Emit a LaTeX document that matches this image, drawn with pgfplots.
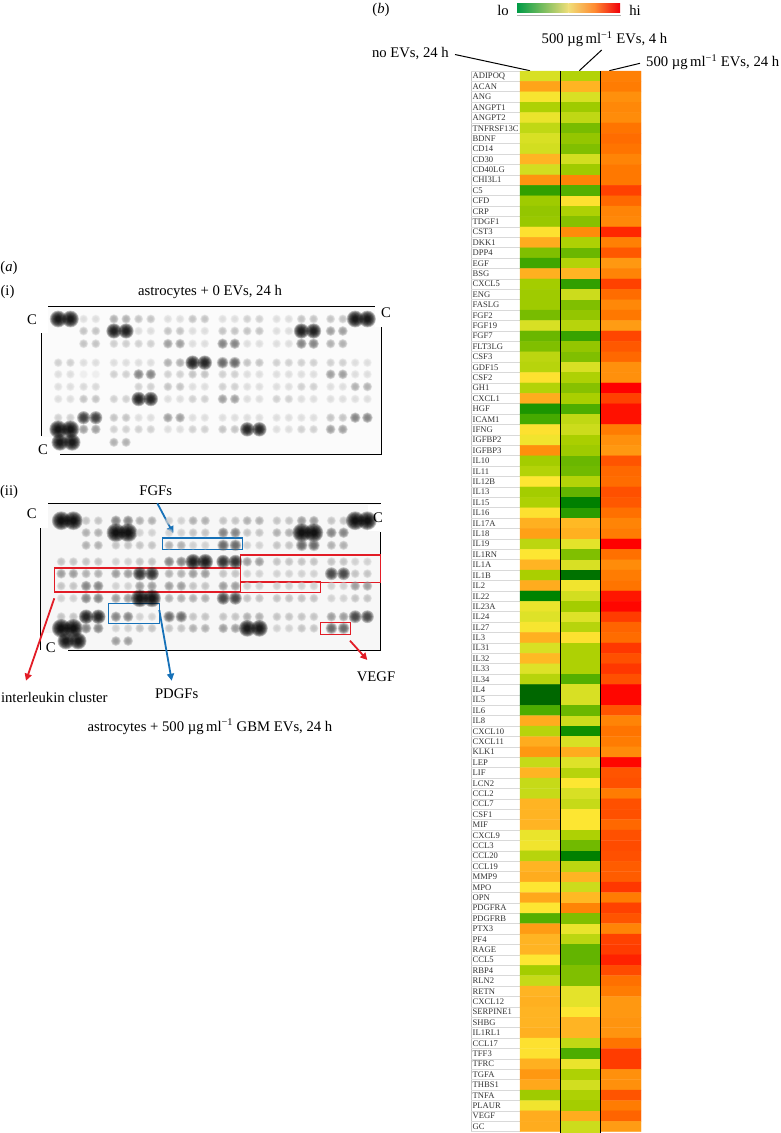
\documentclass[border=0pt]{standalone}
\usepackage{fontspec}
\setmainfont{Liberation Serif}
\usepackage{pgfplots}
\pgfplotsset{compat=1.18}
\usetikzlibrary{arrows.meta}
\newcommand{\tf}{\fontsize{14.7}{16}\selectfont}
\newcommand{\ug}{\textmu g\,ml\textsuperscript{−1}}
\newcommand{\bd}[2]{\pgfpathcircle{\pgfpoint{#1}{0pt}}{#2\pgfplotmarksize}\pgfusepathqfill}
\newcommand{\bl}[1]{\bd{#1}{1}\bd{#1}{.92}\bd{#1}{.84}\bd{#1}{.76}\bd{#1}{.68}\bd{#1}{.6}\bd{#1}{.52}\bd{#1}{.44}\bd{#1}{.36}\bd{#1}{.28}}
\pgfdeclareplotmark{blotpair}{\bl{-6.1pt}\bl{6.1pt}}
\definecolor{evred}{RGB}{226,28,38}
\definecolor{evblue}{RGB}{22,113,184}
\begin{document}
\begin{tikzpicture}
\begin{axis}[name=base,at={(0pt,0pt)},anchor=south west,scale only axis,width=780pt,height=1133pt,
  xmin=0,xmax=780,ymin=0,ymax=1133,y dir=reverse,hide axis,clip=false,
  point meta min=0,point meta max=6,
  colormap={blot}{gray(0pt)=(1); gray(1pt)=(.87); gray(2pt)=(.76); gray(3pt)=(.6); gray(4pt)=(.38); gray(5pt)=(.08); gray(6pt)=(0)}]
% panel backgrounds
\fill[gray!3] (axis cs:41,306) rectangle (axis cs:381,454);
\fill[gray!6] (axis cs:40,503) rectangle (axis cs:380,650);
% panel (i)
\addplot[scatter,only marks,mark=blotpair,scatter src=explicit,mark options={fill opacity=.22},
  scatter/@pre marker code/.append style={/tikz/mark size={4.4+5*(\pgfplotspointmetatransformed/1000)^3}}]
 coordinates {
 (64.3,319)[5.6] (89.7,319)[1] (120,319)[2.5] (144.7,319)[2] (174,319)[1] (198.7,319)[2] (228.7,319)[1] (253.3,319)[1.5] (282.7,319)[1] (307.5,319)[2] (336.7,319)[2] (361.3,319)[5.6]
 (89.7,331)[2] (120,331)[5.2] (144.7,331)[1] (174,331)[2] (198.7,331)[1] (228.7,331)[2] (253.3,331)[2] (282.7,331)[1] (307.5,331)[5.2] (336.7,331)[3]
 (89.7,343.7)[2] (120,343.7)[1.6] (144.7,343.7)[1.5] (174,343.7)[3] (198.7,343.7)[1] (228.7,343.7)[3.5] (253.3,343.7)[1] (282.7,343.7)[1] (307.5,343.7)[3.5] (336.7,343.7)[2.5]
 (64.3,362.7)[1.5] (89.7,362.7)[1] (120,362.7)[1] (144.7,362.7)[1] (174,362.7)[2.5] (198.7,362.7)[5] (228.7,362.7)[4] (253.3,362.7)[2] (282.7,362.7)[1.5] (307.5,362.7)[1.5] (336.7,362.7)[1.5] (361.3,362.7)[1]
 (64.3,374.3)[1] (89.7,374.3)[.5] (120,374.3)[1.5] (144.7,374.3)[3.5] (174,374.3)[1.5] (198.7,374.3)[2] (228.7,374.3)[1.5] (253.3,374.3)[1] (282.7,374.3)[1] (307.5,374.3)[1] (336.7,374.3)[3] (361.3,374.3)[1]
 (64.3,386.7)[1] (89.7,386.7)[1.2] (144.7,386.7)[1.5] (174,386.7)[2] (198.7,386.7)[1] (228.7,386.7)[1.5] (253.3,386.7)[1] (282.7,386.7)[1] (307.5,386.7)[1.5] (336.7,386.7)[1] (361.3,386.7)[2.5]
 (64.3,399)[1] (89.7,399)[2] (120,399)[1.5] (144.7,399)[5] (174,399)[1] (198.7,399)[1.5] (228.7,399)[3] (253.3,399)[1] (282.7,399)[1.5] (307.5,399)[1] (336.7,399)[1] (361.3,399)[1]
 (64.3,417.7)[1.5] (89.7,417.7)[4.6] (120,417.7)[2] (144.7,417.7)[1] (174,417.7)[3] (198.7,417.7)[1] (228.7,417.7)[1] (253.3,417.7)[1] (282.7,417.7)[1] (307.5,417.7)[1] (336.7,417.7)[2] (361.3,417.7)[3.5]
 (64.3,429.3)[5.8] (89.7,429.3)[3] (120,429.3)[1.5] (144.7,429.3)[1.5] (174,429.3)[1] (198.7,429.3)[1.5] (228.7,429.3)[2] (253.3,429.3)[5] (282.7,429.3)[1] (307.5,429.3)[1.5] (336.7,429.3)[3]
 (66,442.3)[5.6] (120,442.3)[2.5]
 };
% panel (ii)
\addplot[scatter,only marks,mark=blotpair,scatter src=explicit,mark options={fill opacity=.22},
  scatter/@pre marker code/.append style={/tikz/mark size={4.4+5*(\pgfplotspointmetatransformed/1000)^3}}]
 coordinates {
 (67.3,520.7)[6] (92.2,520.7)[2] (122,520.7)[3.5] (145.9,520.7)[2.5] (175.2,520.7)[1.5] (199.2,520.7)[2.5] (229.3,520.7)[2] (253.3,520.7)[2.5] (283,520.7)[2] (307.8,520.7)[3] (337.5,520.7)[2] (361.3,520.7)[6]
 (92.2,532.7)[2.5] (122,532.7)[6] (145.9,532.7)[1.5] (175.2,532.7)[1.5] (199.2,532.7)[2] (229.3,532.7)[3.5] (253.3,532.7)[2] (283,532.7)[2.5] (307.8,532.7)[6] (337.5,532.7)[3.5]
 (92.2,545.3)[2.5] (122,545.3)[2] (145.9,545.3)[2] (175.2,545.3)[2.5] (199.2,545.3)[1.5] (229.3,545.3)[4] (253.3,545.3)[1.5] (283,545.3)[2] (307.8,545.3)[4] (337.5,545.3)[2.5]
 (67.3,561.7)[2] (92.2,561.7)[2] (122,561.7)[1.5] (145.9,561.7)[2] (175.2,561.7)[3.5] (199.2,561.7)[5.3] (229.3,561.7)[4.8] (253.3,561.7)[3] (283,561.7)[2] (307.8,561.7)[2] (337.5,561.7)[2] (361.3,561.7)[1.5]
 (67.3,573.7)[3] (92.2,573.7)[2.5] (122,573.7)[3] (145.9,573.7)[4.8] (175.2,573.7)[2.5] (199.2,573.7)[3] (229.3,573.7)[2] (253.3,573.7)[1.5] (283,573.7)[1.5] (307.8,573.7)[1.5] (337.5,573.7)[4.5] (361.3,573.7)[2]
 (67.3,586)[2] (92.2,586)[3.5] (122,586)[1.5] (145.9,586)[3] (175.2,586)[3] (199.2,586)[2] (229.3,586)[3] (253.3,586)[1.5] (283,586)[1.5] (307.8,586)[1.5] (337.5,586)[1.5] (361.3,586)[3]
 (67.3,598.3)[1.5] (92.2,598.3)[3.5] (122,598.3)[3] (145.9,598.3)[5.8] (175.2,598.3)[2.5] (199.2,598.3)[2.5] (229.3,598.3)[4.5] (253.3,598.3)[2] (283,598.3)[2] (307.8,598.3)[2] (337.5,598.3)[1.5] (361.3,598.3)[2]
 (67.3,616.7)[2] (92.2,616.7)[5] (122,616.7)[3.5] (145.9,616.7)[1.5] (175.2,616.7)[4] (199.2,616.7)[2] (229.3,616.7)[2] (253.3,616.7)[2.5] (283,616.7)[2] (307.8,616.7)[2] (337.5,616.7)[3] (361.3,616.7)[4.5]
 (67.3,628.3)[6] (92.2,628.3)[3.5] (122,628.3)[1.5] (145.9,628.3)[2] (175.2,628.3)[2] (199.2,628.3)[2.5] (229.3,628.3)[3] (253.3,628.3)[5.6] (283,628.3)[1.5] (307.8,628.3)[2] (337.5,628.3)[4]
 (72,641)[5.6] (122,641)[3]
 };
% masks and frames
\fill[white] (axis cs:25,300) rectangle (axis cs:48,333);
\fill[white] (axis cs:375,300) rectangle (axis cs:395,327);
\fill[white] (axis cs:30,437) rectangle (axis cs:60,460);
\fill[white] (axis cs:25,497) rectangle (axis cs:48,528);
\fill[white] (axis cs:368,505) rectangle (axis cs:390,531);
\fill[white] (axis cs:40,633) rectangle (axis cs:68,655);
\draw[black,line width=.9pt] (axis cs:48,306.5) -- (axis cs:375,306.5);
\draw[black,line width=.9pt] (axis cs:41,333) -- (axis cs:41,436);
\draw[black,line width=.9pt] (axis cs:60,454) -- (axis cs:381,454) -- (axis cs:381,327);
\draw[black,line width=.9pt] (axis cs:48,503.5) -- (axis cs:381,503.5);
\draw[black,line width=.9pt] (axis cs:40,528) -- (axis cs:40,650);
\draw[black,line width=.9pt] (axis cs:68,650) -- (axis cs:380.5,650) -- (axis cs:380.5,532);
% annotation boxes
\draw[evblue,line width=1.1pt] (axis cs:162.3,538) rectangle (axis cs:242.3,549.7);
\draw[evblue,line width=1.1pt] (axis cs:108.3,603.3) rectangle (axis cs:159.3,623.3);
\draw[evred,line width=1.1pt] (axis cs:54.3,568) rectangle (axis cs:240.7,592);
\draw[evred,line width=1.1pt] (axis cs:240.7,555) rectangle (axis cs:380.5,582.7);
\draw[evred,line width=1.1pt] (axis cs:240.7,581.3) rectangle (axis cs:320.7,592.7);
\draw[evred,line width=1.1pt] (axis cs:320.3,622.3) rectangle (axis cs:350.7,634.7);
\draw[evblue,line width=1.8pt,-{Triangle[length=7pt,width=7pt]}] (axis cs:157.3,503.3) -- (axis cs:173.3,533.3);
\draw[evblue,line width=1.8pt,-{Triangle[length=7pt,width=7pt]}] (axis cs:159.3,610) -- (axis cs:171.7,680.7);
\draw[evred,line width=1.8pt,-{Triangle[length=7pt,width=7pt]}] (axis cs:54.3,598.3) -- (axis cs:26,680.7);
\draw[evred,line width=1.8pt,-{Triangle[length=7pt,width=7pt]}] (axis cs:350,640.7) -- (axis cs:367.3,660);
% texts of (a)
\node[font=\tf] at (axis cs:9,267.7) {(\textit{a})};
\node[font=\tf] at (axis cs:7.5,291.7) {(i)};
\node[font=\tf] at (axis cs:210,291.7) {astrocytes + 0 EVs, 24 h};
\node[font=\tf] at (axis cs:32,320) {C};
\node[font=\tf] at (axis cs:386,313) {C};
\node[font=\tf] at (axis cs:43,450) {C};
\node[font=\tf] at (axis cs:9,491.7) {(ii)};
\node[font=\tf] at (axis cs:155.7,491) {FGFs};
\node[font=\tf] at (axis cs:31.7,514) {C};
\node[font=\tf] at (axis cs:378,518) {C};
\node[font=\tf] at (axis cs:50.7,647.7) {C};
\node[font=\tf] at (axis cs:54.3,697.7) {interleukin cluster};
\node[font=\tf] at (axis cs:176.7,694) {PDGFs};
\node[font=\tf] at (axis cs:376,676.7) {VEGF};
\node[font=\tf] at (axis cs:210,726.7) {astrocytes + 500 \ug{} GBM EVs, 24 h};
% texts of (b)
\node[font=\tf] at (axis cs:381,9.5) {(\textit{b})};
\node[font=\tf] at (axis cs:503,10) {lo};
\node[font=\tf] at (axis cs:635,10) {hi};
\shade[left color={rgb,255:red,0;green,155;blue,70},right color={rgb,255:red,240;green,222;blue,120}] (axis cs:517,3) rectangle (axis cs:568.5,12);
\shade[left color={rgb,255:red,240;green,222;blue,120},right color={rgb,255:red,240;green,0;blue,10},middle color={rgb,255:red,255;green,140;blue,50}] (axis cs:568.5,3) rectangle (axis cs:620,12);
\draw[gray!60,line width=.8pt] (axis cs:517,15) -- (axis cs:621,15);
\node[font=\tf] at (axis cs:604.5,39) {500 \ug{} EVs, 4 h};
\node[font=\tf,anchor=west,inner xsep=0pt] at (axis cs:646,62) {500 \ug{} EVs, 24 h};
\node[font=\tf,anchor=east,inner xsep=0pt] at (axis cs:449,54) {no EVs, 24 h};
\draw[black,line width=1pt] (axis cs:455,54.5) -- (axis cs:530,70.7);
\draw[black,line width=1pt] (axis cs:601.7,50) -- (axis cs:579.3,70.7);
\draw[black,line width=1pt] (axis cs:640,63.3) -- (axis cs:609.3,70.7);
% label table of the heat map
\draw[gray!45,line width=.6pt] (axis cs:471,71) -- (axis cs:471,1131.7);
\pgfplotsinvokeforeach{0,...,102}{\draw[gray!30,line width=.7pt] (axis cs:471,{71+10.4*#1}) -- (axis cs:520,{71+10.4*#1});}
\end{axis}
\begin{axis}[name=heat,at={(520pt,1.3pt)},anchor=south west,scale only axis,width=121pt,height=1060.7pt,
  xmin=-.5,xmax=2.5,ymin=-.5,ymax=101.5,y dir=reverse,clip=false,
  axis line style={draw=none},tick style={draw=none},xtick=\empty,
  ytick={0,...,101},
  yticklabels={ADIPOQ,ACAN,ANG,ANGPT1,ANGPT2,TNFRSF13C,BDNF,CD14,CD30,CD40LG,CHI3L1,C5,CFD,CRP,TDGF1,CST3,DKK1,DPP4,EGF,BSG,CXCL5,ENG,FASLG,FGF2,FGF19,FGF7,FLT3LG,CSF3,GDF15,CSF2,GH1,CXCL1,HGF,ICAM1,IFNG,IGFBP2,IGFBP3,IL10,IL11,IL12B,IL13,IL15,IL16,IL17A,IL18,IL19,IL1RN,IL1A,IL1B,IL2,IL22,IL23A,IL24,IL27,IL3,IL31,IL32,IL33,IL34,IL4,IL5,IL6,IL8,CXCL10,CXCL11,KLK1,LEP,LIF,LCN2,CCL2,CCL7,CSF1,MIF,CXCL9,CCL3,CCL20,CCL19,MMP9,MPO,OPN,PDGFRA,PDGFRB,PTX3,PF4,RAGE,CCL5,RBP4,RLN2,RETN,CXCL12,SERPINE1,SHBG,IL1RL1,CCL17,TFF3,TFRC,TGFA,THBS1,TNFA,PLAUR,VEGF,GC},
  yticklabel style={anchor=west,xshift=-47.5pt,font=\fontsize{8.6}{8.6}\selectfont,inner xsep=0pt,text=black!80},
  point meta min=0,point meta max=100,
  colormap={heat}{rgb255(0pt)=(0,100,0); rgb255(10pt)=(0,135,0); rgb255(20pt)=(70,170,0); rgb255(30pt)=(142,196,0); rgb255(35pt)=(170,207,0); rgb255(40pt)=(192,216,20); rgb255(45pt)=(222,226,40); rgb255(50pt)=(253,230,50); rgb255(60pt)=(255,180,35); rgb255(70pt)=(255,140,10); rgb255(75pt)=(255,120,0); rgb255(85pt)=(255,80,0); rgb255(92pt)=(255,45,0); rgb255(100pt)=(255,0,0)}]
\addplot[matrix plot*,point meta=explicit,mesh/cols=3,mesh/ordering=x varies] coordinates {
(0,0)[44] (1,0)[37] (2,0)[73]
(0,1)[64] (1,1)[60] (2,1)[74]
(0,2)[49] (1,2)[44] (2,2)[69]
(0,3)[36] (1,3)[33] (2,3)[71]
(0,4)[47] (1,4)[40] (2,4)[70]
(0,5)[40] (1,5)[27] (2,5)[76]
(0,6)[44] (1,6)[31] (2,6)[78]
(0,7)[43] (1,7)[28] (2,7)[76]
(0,8)[60] (1,8)[43] (2,8)[72]
(0,9)[43] (1,9)[33] (2,9)[75]
(0,10)[68] (1,10)[72] (2,10)[75]
(0,11)[17] (1,11)[22] (2,11)[88]
(0,12)[33] (1,12)[51] (2,12)[79]
(0,13)[31] (1,13)[36] (2,13)[72]
(0,14)[32] (1,14)[29] (2,14)[71]
(0,15)[51] (1,15)[70] (2,15)[93]
(0,16)[62] (1,16)[36] (2,16)[73]
(0,17)[28] (1,17)[25] (2,17)[83]
(0,18)[19] (1,18)[37] (2,18)[67]
(0,19)[61] (1,19)[60] (2,19)[72]
(0,20)[34] (1,20)[17] (2,20)[88]
(0,21)[33] (1,21)[42] (2,21)[78]
(0,22)[33] (1,22)[28] (2,22)[71]
(0,23)[27] (1,23)[31] (2,23)[75]
(0,24)[44] (1,24)[38] (2,24)[66]
(0,25)[25] (1,25)[18] (2,25)[87]
(0,26)[28] (1,26)[31] (2,26)[83]
(0,27)[39] (1,27)[28] (2,27)[79]
(0,28)[38] (1,28)[44] (2,28)[69]
(0,29)[51] (1,29)[36] (2,29)[69]
(0,30)[37] (1,30)[29] (2,30)[100]
(0,31)[62] (1,31)[35] (2,31)[88]
(0,32)[14] (1,32)[21] (2,32)[97]
(0,33)[20] (1,33)[40] (2,33)[97]
(0,34)[51] (1,34)[42] (2,34)[74]
(0,35)[48] (1,35)[35] (2,35)[69]
(0,36)[69] (1,36)[33] (2,36)[67]
(0,37)[34] (1,37)[25] (2,37)[84]
(0,38)[37] (1,38)[26] (2,38)[79]
(0,39)[50] (1,39)[37] (2,39)[78]
(0,40)[34] (1,40)[24] (2,40)[85]
(0,41)[36] (1,41)[8] (2,41)[83]
(0,42)[51] (1,42)[16] (2,42)[77]
(0,43)[61] (1,43)[59] (2,43)[72]
(0,44)[65] (1,44)[61] (2,44)[74]
(0,45)[39] (1,45)[46] (2,45)[100]
(0,46)[50] (1,46)[28] (2,46)[77]
(0,47)[60] (1,47)[44] (2,47)[70]
(0,48)[35] (1,48)[4] (2,48)[74]
(0,49)[62] (1,49)[48] (2,49)[76]
(0,50)[9] (1,50)[43] (2,50)[96]
(0,51)[47] (1,51)[34] (2,51)[99]
(0,52)[45] (1,52)[45] (2,52)[89]
(0,53)[49] (1,53)[38] (2,53)[80]
(0,54)[61] (1,54)[51] (2,54)[78]
(0,55)[44] (1,55)[36] (2,55)[90]
(0,56)[59] (1,56)[36] (2,56)[85]
(0,57)[45] (1,57)[36] (2,57)[90]
(0,58)[38] (1,58)[22] (2,58)[85]
(0,59)[1] (1,59)[44] (2,59)[99]
(0,60)[1] (1,60)[44] (2,60)[99]
(0,61)[21] (1,61)[25] (2,61)[84]
(0,62)[62] (1,62)[42] (2,62)[72]
(0,63)[38] (1,63)[12] (2,63)[76]
(0,64)[62] (1,64)[44] (2,64)[74]
(0,65)[67] (1,65)[62] (2,65)[70]
(0,66)[41] (1,66)[45] (2,66)[99]
(0,67)[60] (1,67)[38] (2,67)[84]
(0,68)[41] (1,68)[50] (2,68)[85]
(0,69)[41] (1,69)[44] (2,69)[74]
(0,70)[60] (1,70)[41] (2,70)[85]
(0,71)[60] (1,71)[50] (2,71)[85]
(0,72)[60] (1,72)[50] (2,72)[79]
(0,73)[47] (1,73)[36] (2,73)[85]
(0,74)[48] (1,74)[26] (2,74)[86]
(0,75)[38] (1,75)[8] (2,75)[85]
(0,76)[60] (1,76)[39] (2,76)[82]
(0,77)[62] (1,77)[60] (2,77)[82]
(0,78)[50] (1,78)[42] (2,78)[90]
(0,79)[63] (1,79)[59] (2,79)[74]
(0,80)[50] (1,80)[72] (2,80)[88]
(0,81)[22] (1,81)[28] (2,81)[84]
(0,82)[66] (1,82)[47] (2,82)[72]
(0,83)[60] (1,83)[39] (2,83)[88]
(0,84)[60] (1,84)[24] (2,84)[89]
(0,85)[50] (1,85)[24] (2,85)[94]
(0,86)[34] (1,86)[28] (2,86)[86]
(0,87)[41] (1,87)[28] (2,87)[77]
(0,88)[60] (1,88)[46] (2,88)[74]
(0,89)[61] (1,89)[46] (2,89)[67]
(0,90)[60] (1,90)[50] (2,90)[67]
(0,91)[60] (1,91)[60] (2,91)[68]
(0,92)[61] (1,92)[60] (2,92)[68]
(0,93)[51] (1,93)[40] (2,93)[76]
(0,94)[51] (1,94)[21] (2,94)[89]
(0,95)[61] (1,95)[47] (2,95)[89]
(0,96)[67] (1,96)[36] (2,96)[69]
(0,97)[63] (1,97)[43] (2,97)[69]
(0,98)[33] (1,98)[36] (2,98)[84]
(0,99)[48] (1,99)[34] (2,99)[74]
(0,100)[62] (1,100)[62] (2,100)[80]
(0,101)[62] (1,101)[42] (2,101)[66]
};
\draw[black,line width=1pt] (axis cs:.5,-.5) -- (axis cs:.5,101.7);
\draw[black,line width=1pt] (axis cs:1.5,-.5) -- (axis cs:1.5,101.7);
\end{axis}
\pgfresetboundingbox
\path[use as bounding box] (0,0) rectangle (780pt,1133pt);
\end{tikzpicture}
\end{document}
